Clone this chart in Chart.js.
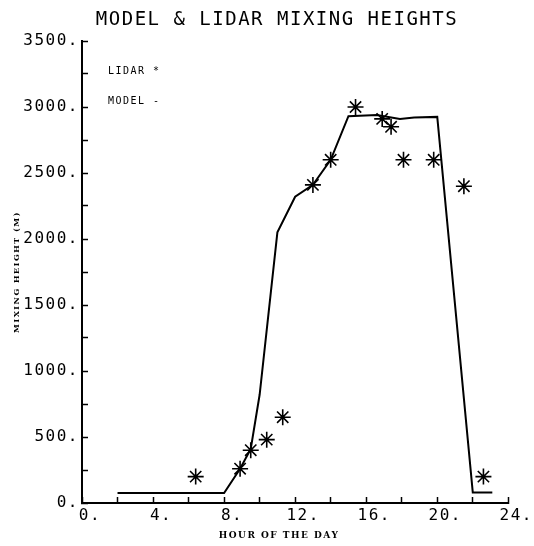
<!DOCTYPE html>
<html>
<head>
<meta charset="utf-8">
<script src="https://cdn.jsdelivr.net/npm/chart.js@4/dist/chart.umd.min.js"></script>
<style>
  html, body { margin: 0; padding: 0; background: #fff; }
  canvas { display: block; }
</style>
</head>
<body>
<canvas id="grafico" width="534" height="546"></canvas>
<script>
// model curve (hour, metres)
const modelHours   = [2.0, 8.0, 8.9, 9.5, 10.0, 11.0, 12.0, 13.0, 14.0, 15.0, 16.6, 17.9, 18.7, 20.0, 22.0, 23.1];
const modelHeights = [75, 75, 260, 410, 820, 2050, 2320, 2410, 2600, 2930, 2940, 2910, 2920, 2925, 80, 80];

// lidar observations
const lidarHours   = [6.4, 8.9, 9.5, 10.4, 11.3, 13.0, 14.0, 15.4, 16.9, 17.4, 18.1, 19.8, 21.5, 22.6];
const lidarHeights = [200, 260, 400, 480, 650, 2410, 2600, 3000, 2910, 2850, 2600, 2600, 2400, 200];

const tituloGrafico = 'MODEL & LIDAR MIXING HEIGHTS';
const tituloX = 'HOUR OF THE DAY';
const tituloY = 'MIXING HEIGHT (M)';
const legendaTextos = ['LIDAR *', 'MODEL -'];

const pares = (xs, ys) => xs.map((x, i) => ({ x: x, y: ys[i] }));

// letter spacing for the plotter look
const espacamento = {
    id: 'espacamento',
    beforeUpdate(chart) { chart.ctx.letterSpacing = '1.5px'; },
    beforeDraw(chart) { chart.ctx.letterSpacing = '1.5px'; }
};

// title, x axis title and legend, placed like the original plot
const textos = {
    id: 'textos',
    afterDraw(chart) {
        const ctx = chart.ctx;
        const area = chart.chartArea;
        ctx.save();
        ctx.fillStyle = '#000';
        ctx.textBaseline = 'middle';

        ctx.textAlign = 'center';
        ctx.font = '19px "DejaVu Sans Mono"';
        ctx.fillText(tituloGrafico, 277, 20);

        ctx.font = 'bold 9px "DejaVu Serif"';
        ctx.fillText(tituloX, 279, 536);

        ctx.textAlign = 'left';
        ctx.font = '10px "DejaVu Sans Mono"';
        legendaTextos.forEach((t, i) => {
            ctx.fillText(t, area.left + 26, area.top + 30 + i * 30);
        });
        ctx.restore();
    }
};

const fonteNum = { family: '"DejaVu Sans Mono"', size: 16 };

new Chart(document.getElementById('grafico').getContext('2d'), {
    type: 'line',
    data: {
        datasets: [
            {
                label: 'LIDAR',
                data: pares(lidarHours, lidarHeights),
                showLine: false,
                pointStyle: 'star',
                pointRadius: 8,
                pointBorderWidth: 1.6,
                borderColor: '#000',
                backgroundColor: '#000'
            },
            {
                label: 'MODEL',
                data: pares(modelHours, modelHeights),
                borderColor: '#000',
                borderWidth: 2,
                pointRadius: 0,
                tension: 0,
                fill: false
            }
        ]
    },
    options: {
        responsive: false,
        animation: false,
        events: [],
        layout: { padding: { left: 0, right: 22, top: 41, bottom: 0 } },
        plugins: {
            legend: { display: false },
            tooltip: { enabled: false },
            title: { display: false }
        },
        scales: {
            x: {
                type: 'linear',
                min: 0,
                max: 24,
                afterFit(scale) { scale.height = 43; },
                ticks: {
                    stepSize: 2,
                    autoSkip: false,
                    maxRotation: 0,
                    color: '#000',
                    font: fonteNum,
                    padding: 9,
                    labelOffset: 8,
                    callback: v => (v % 4 === 0 ? v + '.' : '')
                },
                grid: { drawOnChartArea: false, tickLength: -6, color: '#000', tickWidth: 1.5 },
                border: { display: true, color: '#000', width: 2 }
            },
            y: {
                min: 0,
                max: 3500,
                afterFit(scale) { scale.width = 82; },
                ticks: {
                    stepSize: 250,
                    autoSkip: false,
                    color: '#000',
                    font: fonteNum,
                    padding: 9,
                    callback: v => (v % 500 === 0 ? v + '.' : '')
                },
                grid: { drawOnChartArea: false, tickLength: -6, color: '#000', tickWidth: 1.5 },
                border: { display: true, color: '#000', width: 2 },
                title: { display: true, text: tituloY, color: '#000', font: { family: '"DejaVu Serif"', weight: 'bold', size: 8 }, padding: { top: 12, bottom: 0 } }
            }
        }
    },
    plugins: [espacamento, textos]
});
</script>
</body>
</html>
